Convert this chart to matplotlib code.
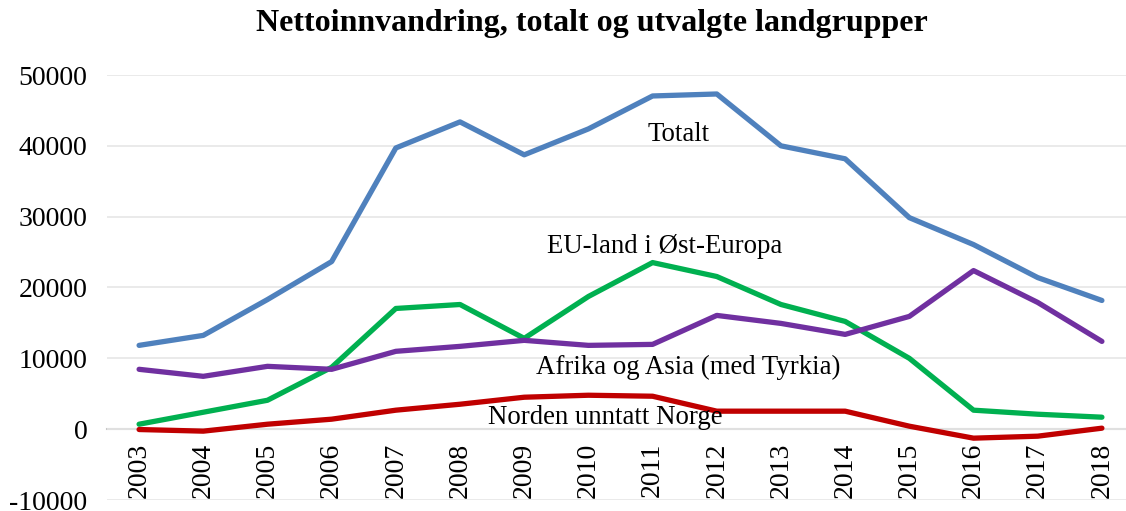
import matplotlib
matplotlib.use("Agg")
import matplotlib.pyplot as plt

years = list(range(2003, 2019))
totalt = [11830, 13240, 18300, 23660, 39700, 43380, 38730, 42390, 47040, 47320, 40000, 38170, 29860, 26060, 21400, 18170]
eu_ost = [700, 2390, 4080, 8730, 17040, 17600, 12820, 18730, 23520, 21550, 17600, 15210, 10000, 2680, 2110, 1690]
afrika_asia = [8450, 7460, 8870, 8450, 10990, 11690, 12540, 11830, 11970, 16060, 14930, 13380, 15920, 22390, 17890, 12390]
norden = [-50, -280, 700, 1410, 2680, 3520, 4510, 4790, 4650, 2540, 2540, 2540, 420, -1270, -990, 140]
yticks = [-10000, 0, 10000, 20000, 30000, 40000, 50000]
title = "Nettoinnvandring, totalt og utvalgte landgrupper"

plt.rcParams['font.family'] = ['Liberation Serif', 'DejaVu Serif']

fig = plt.figure(figsize=(11.26, 5.11), dpi=100)
ax = fig.add_axes([107/1126, 11/511, 1027/1126, 425/511])

# position spine first (it resets tick properties)
for s in ['top', 'right', 'left']:
    ax.spines[s].set_visible(False)
ax.spines['bottom'].set_position(('data', 0))
ax.spines['bottom'].set_color('#C8C8C8')
ax.spines['bottom'].set_linewidth(1.5)
ax.spines['bottom'].set_zorder(1)

lw = 3.8
ax.plot(years, totalt, color='#4F81BD', lw=lw, solid_capstyle='round', zorder=3)
ax.plot(years, eu_ost, color='#00B050', lw=lw, solid_capstyle='round', zorder=3)
ax.plot(years, afrika_asia, color='#7030A0', lw=lw, solid_capstyle='round', zorder=3)
ax.plot(years, norden, color='#C00000', lw=lw, solid_capstyle='round', zorder=3)

ax.set_xlim(2002.5, 2018.5)
ax.set_ylim(-10000, 50000)
ax.set_yticks(yticks)
ax.set_yticklabels([str(v) for v in yticks])
ax.set_xticks(years)
ax.set_xticklabels([str(y) for y in years])
ax.tick_params(axis='both', length=0, labelsize=20)
ax.tick_params(axis='y', pad=14)
ax.tick_params(axis='x', pad=10, labelrotation=90)

ax.grid(axis='y', color='#E6E6E6', lw=1.2, zorder=0)

fs = 19.3
ax.text(2011.41, 41550, "Totalt", ha='center', va='center', fontsize=fs, zorder=4)
ax.text(2011.18, 25770, "EU-land i Øst-Europa", ha='center', va='center', fontsize=fs, zorder=4)
ax.text(2011.55, 8730, "Afrika og Asia (med Tyrkia)", ha='center', va='center', fontsize=fs, zorder=4)
ax.text(2010.26, 1690, "Norden unntatt Norge", ha='center', va='center', fontsize=fs, zorder=4)

fig.text(592/1126, 1 - 24/511, title, ha='center', va='center', fontsize=23, fontweight='bold')

fig.savefig("out.png", dpi=100)
